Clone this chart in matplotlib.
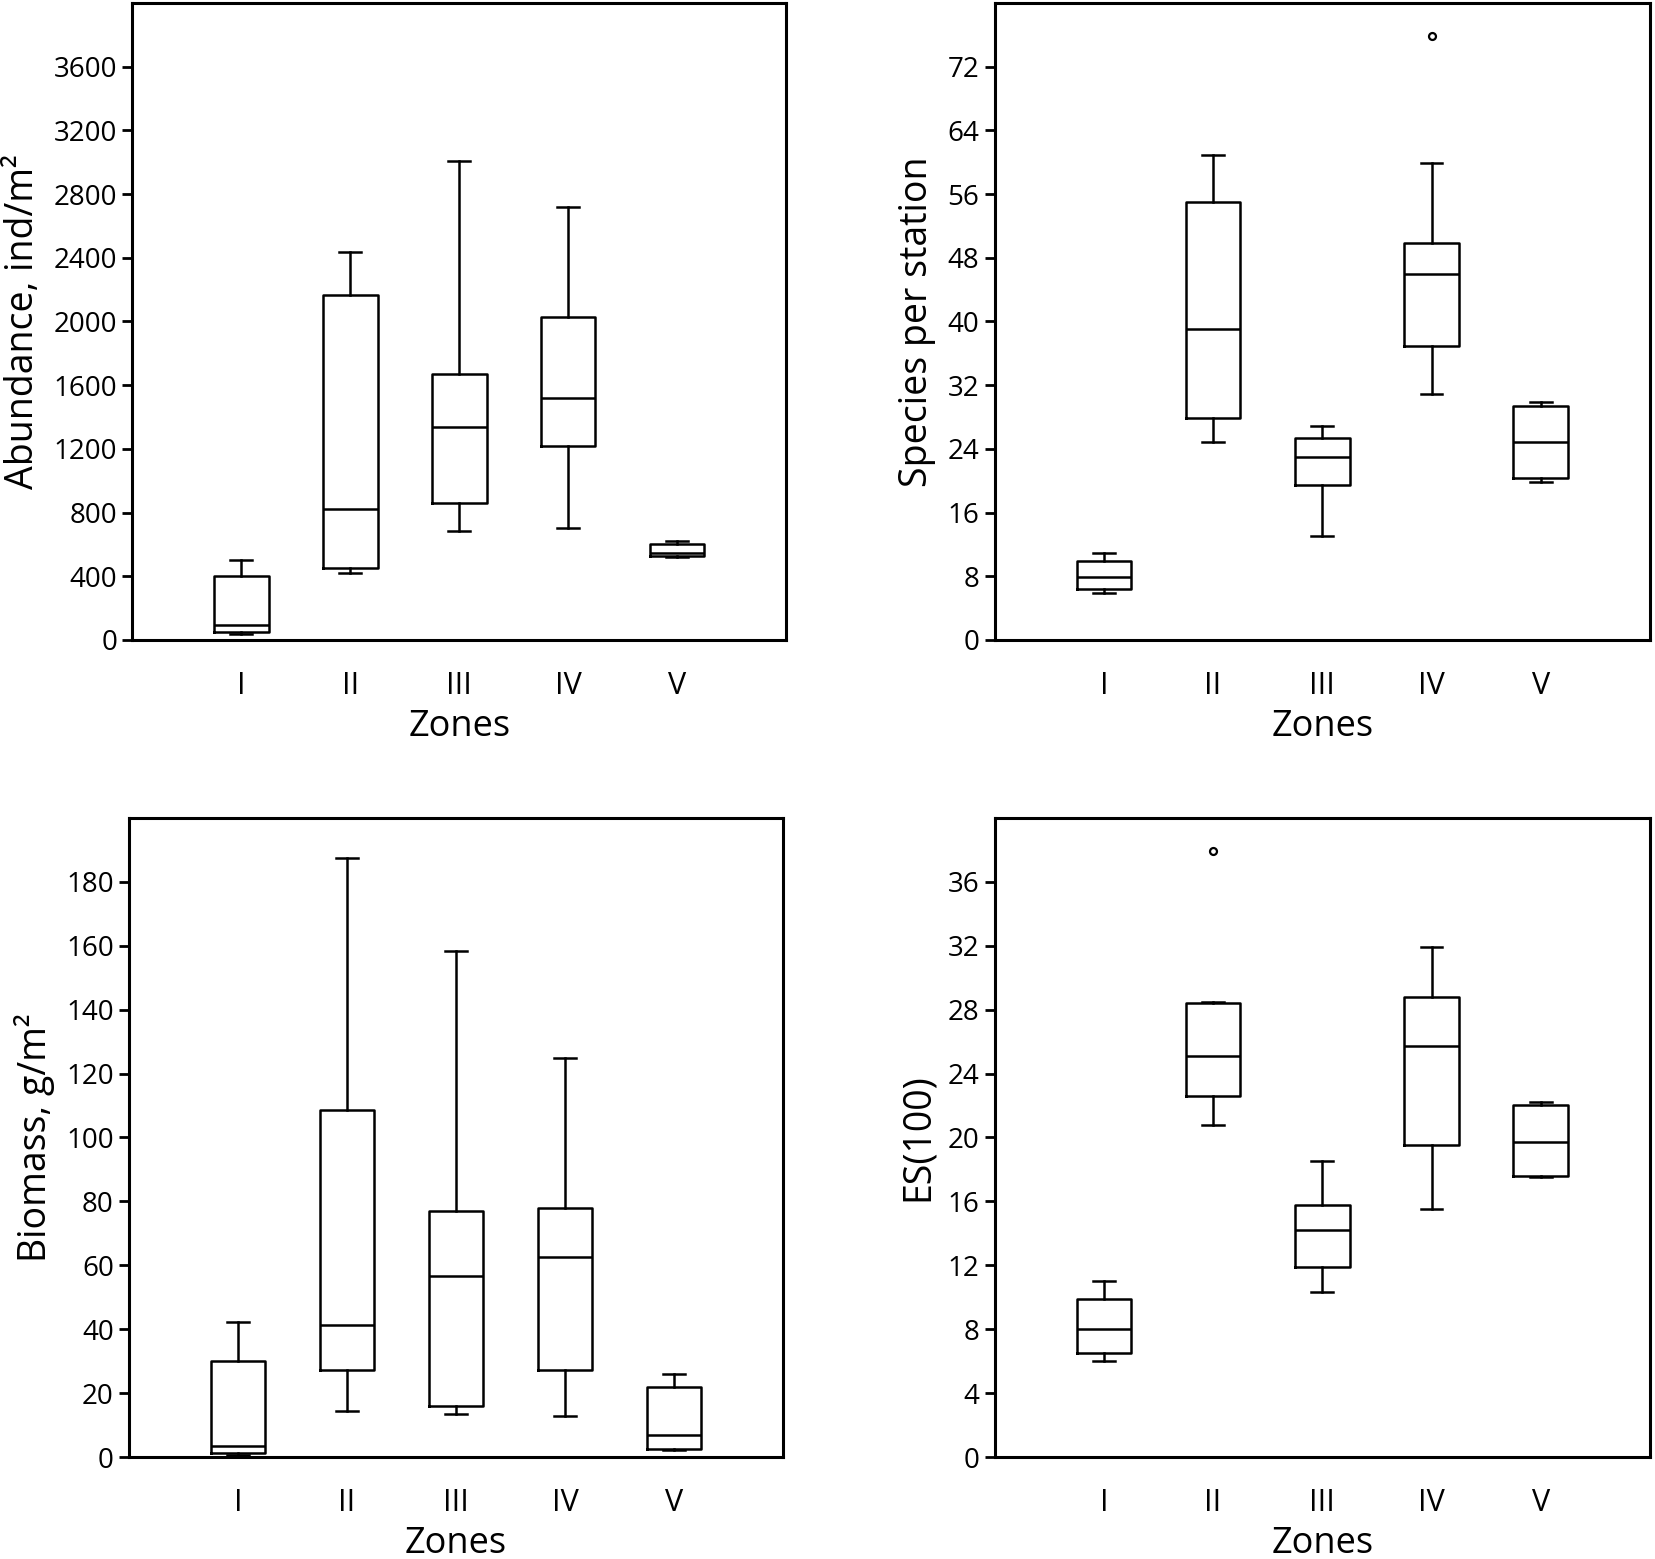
import matplotlib
matplotlib.use('Agg')
import matplotlib.pyplot as plt
import numpy as np

plt.rcParams['font.family'] = ['Open Sans', 'DejaVu Sans']

zones = ['I', 'II', 'III', 'IV', 'V']

# abundance, ind/m2
abund_lo = [35, 418, 683, 700, 521]
abund_q1 = [49, 455, 861, 1215, 527]
abund_med = [92, 821, 1336, 1518, 544]
abund_q3 = [400, 2169, 1670, 2025, 602]
abund_hi = [504, 2437, 3007, 2716, 619]
abund_out = [[], [], [], [], []]

# species per station
spec_lo = [5.9, 24.9, 13.0, 30.9, 19.9]
spec_q1 = [6.4, 27.9, 19.5, 36.9, 20.4]
spec_med = [7.95, 39.0, 23.0, 45.9, 24.9]
spec_q3 = [9.97, 54.95, 25.4, 49.9, 29.4]
spec_hi = [10.9, 60.9, 26.9, 59.9, 29.9]
spec_out = [[], [], [], [75.9], []]

# biomass, g/m2
bio_lo = [0.5, 14.3, 13.4, 12.8, 2.2]
bio_q1 = [1.25, 27.1, 16.1, 27.1, 2.65]
bio_med = [3.4, 41.3, 56.7, 62.6, 7.0]
bio_q3 = [29.9, 108.6, 77.1, 77.9, 21.8]
bio_hi = [42.1, 187.5, 158.3, 125.0, 25.9]
bio_out = [[], [], [], [], []]

# ES(100)
es_lo = [6.0, 20.8, 10.35, 15.55, 17.5]
es_q1 = [6.5, 22.6, 11.9, 19.5, 17.6]
es_med = [8.0, 25.1, 14.2, 25.7, 19.7]
es_q3 = [9.9, 28.4, 15.8, 28.8, 22.0]
es_hi = [11.0, 28.5, 18.5, 31.9, 22.2]
es_out = [[], [37.9], [], [], []]


def make_stats(lo, q1, med, q3, hi, out):
    stats = []
    for i in range(len(zones)):
        stats.append(dict(label=zones[i], whislo=lo[i], q1=q1[i], med=med[i],
                          q3=q3[i], whishi=hi[i], fliers=out[i]))
    return stats


fig = plt.figure(figsize=(16.55, 15.59), dpi=100)

panels = [
    ([0.080, 0.5895, 0.395, 0.4086], make_stats(abund_lo, abund_q1, abund_med, abund_q3, abund_hi, abund_out),
     'Abundance, ind/m²', 4000, np.arange(0, 3601, 400)),
    ([0.601, 0.5895, 0.396, 0.4086], make_stats(spec_lo, spec_q1, spec_med, spec_q3, spec_hi, spec_out),
     'Species per station', 80, np.arange(0, 73, 8)),
    ([0.078, 0.0654, 0.395, 0.410], make_stats(bio_lo, bio_q1, bio_med, bio_q3, bio_hi, bio_out),
     'Biomass, g/m²', 200, np.arange(0, 181, 20)),
    ([0.601, 0.0654, 0.396, 0.410], make_stats(es_lo, es_q1, es_med, es_q3, es_hi, es_out),
     'ES(100)', 40, np.arange(0, 37, 4)),
]

lw = 1.8
for rect, stats, ylab, ymax, yt in panels:
    ax = fig.add_axes(rect)
    ax.bxp(stats, positions=range(1, 6), widths=0.5, capwidths=0.2,
           boxprops=dict(color='black', linewidth=lw),
           medianprops=dict(color='black', linewidth=lw),
           whiskerprops=dict(color='black', linewidth=lw),
           capprops=dict(color='black', linewidth=lw),
           flierprops=dict(marker='o', markersize=5, markerfacecolor='none',
                           markeredgecolor='black', markeredgewidth=1.6))
    ax.set_xlim(0, 6)
    ax.set_ylim(0, ymax)
    ax.set_yticks(yt)
    ax.set_xticks(range(1, 6))
    ax.set_xticklabels(zones)
    for s in ax.spines.values():
        s.set_linewidth(2.2)
    ax.tick_params(axis='y', direction='out', length=7, width=2, labelsize=20, pad=4)
    ax.tick_params(axis='x', length=0, labelsize=22, pad=22)
    ax.set_xlabel('Zones', fontsize=26, labelpad=6)
    ax.set_ylabel(ylab, fontsize=27, labelpad=8)

fig.savefig('out.png', dpi=100)
